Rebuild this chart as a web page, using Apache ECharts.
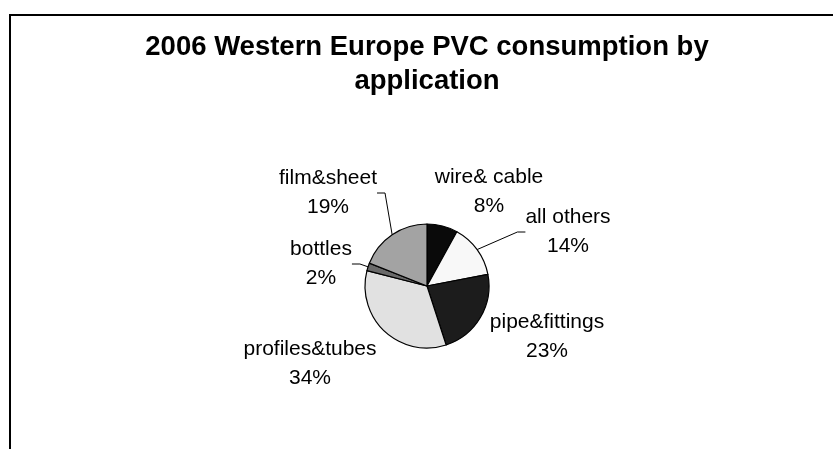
<!DOCTYPE html>
<html>
<head>
<meta charset="utf-8">
<script src="https://cdn.jsdelivr.net/npm/echarts@6/dist/echarts.min.js"></script>
<style>
html,body{margin:0;padding:0;background:#fff;}
#chart{width:833px;height:449px;}
</style>
</head>
<body>
<div id="chart"></div>
<script>
// Data
var categories = ['wire& cable', 'all others', 'pipe&fittings', 'profiles&tubes', 'bottles', 'film&sheet'];
var shares = [8, 14, 23, 34, 2, 19];
var titleText = '2006 Western Europe PVC consumption by\napplication';

// Styling (not data)
var sliceColors = ['#0a0a0a', '#f8f8f8', '#1c1c1c', '#e1e1e1', '#6a6a6a', '#a3a3a3'];
var showGuide = [false, true, false, false, true, true];
var labelPos = [[489, 192], [568, 232], [547, 337], [310, 364], [321, 264], [328, 193]];

var chart = echarts.init(document.getElementById('chart'), null, {renderer: 'canvas'});
var data = categories.map(function (c, i) {
  return {
    name: c,
    value: shares[i],
    itemStyle: {color: sliceColors[i]},
    labelLine: {show: showGuide[i]}
  };
});

chart.setOption({
  backgroundColor: '#ffffff',
  animation: false,
  title: {
    text: titleText,
    left: 427,
    textAlign: 'center',
    top: 30,
    padding: 0,
    textStyle: {
      fontFamily: 'Liberation Sans, Arial, sans-serif',
      fontWeight: 'bold',
      fontSize: 27.5,
      lineHeight: 34,
      color: '#000'
    }
  },
  graphic: [{
    type: 'rect',
    shape: {x: 10, y: 15, width: 900, height: 520},
    style: {fill: 'none', stroke: '#000', lineWidth: 2},
    silent: true,
    z: 0
  }],
  series: [{
    type: 'pie',
    center: [427, 286],
    radius: 62,
    startAngle: 90,
    clockwise: true,
    avoidLabelOverlap: false,
    data: data,
    itemStyle: {borderColor: '#000', borderWidth: 1.2},
    label: {
      show: true,
      position: 'outside',
      formatter: function (p) { return p.name + '\n' + Math.round(p.percent) + '%'; },
      fontFamily: 'Liberation Sans, Arial, sans-serif',
      fontSize: 21,
      lineHeight: 29,
      color: '#000',
      align: 'center'
    },
    labelLine: {
      length: 8,
      length2: 8,
      lineStyle: {color: '#000', width: 1}
    },
    labelLayout: function (params) {
      var pos = labelPos[params.dataIndex];
      return {x: pos[0], y: pos[1], align: 'center', verticalAlign: 'middle'};
    },
    emphasis: {disabled: true}
  }]
});
</script>
</body>
</html>
